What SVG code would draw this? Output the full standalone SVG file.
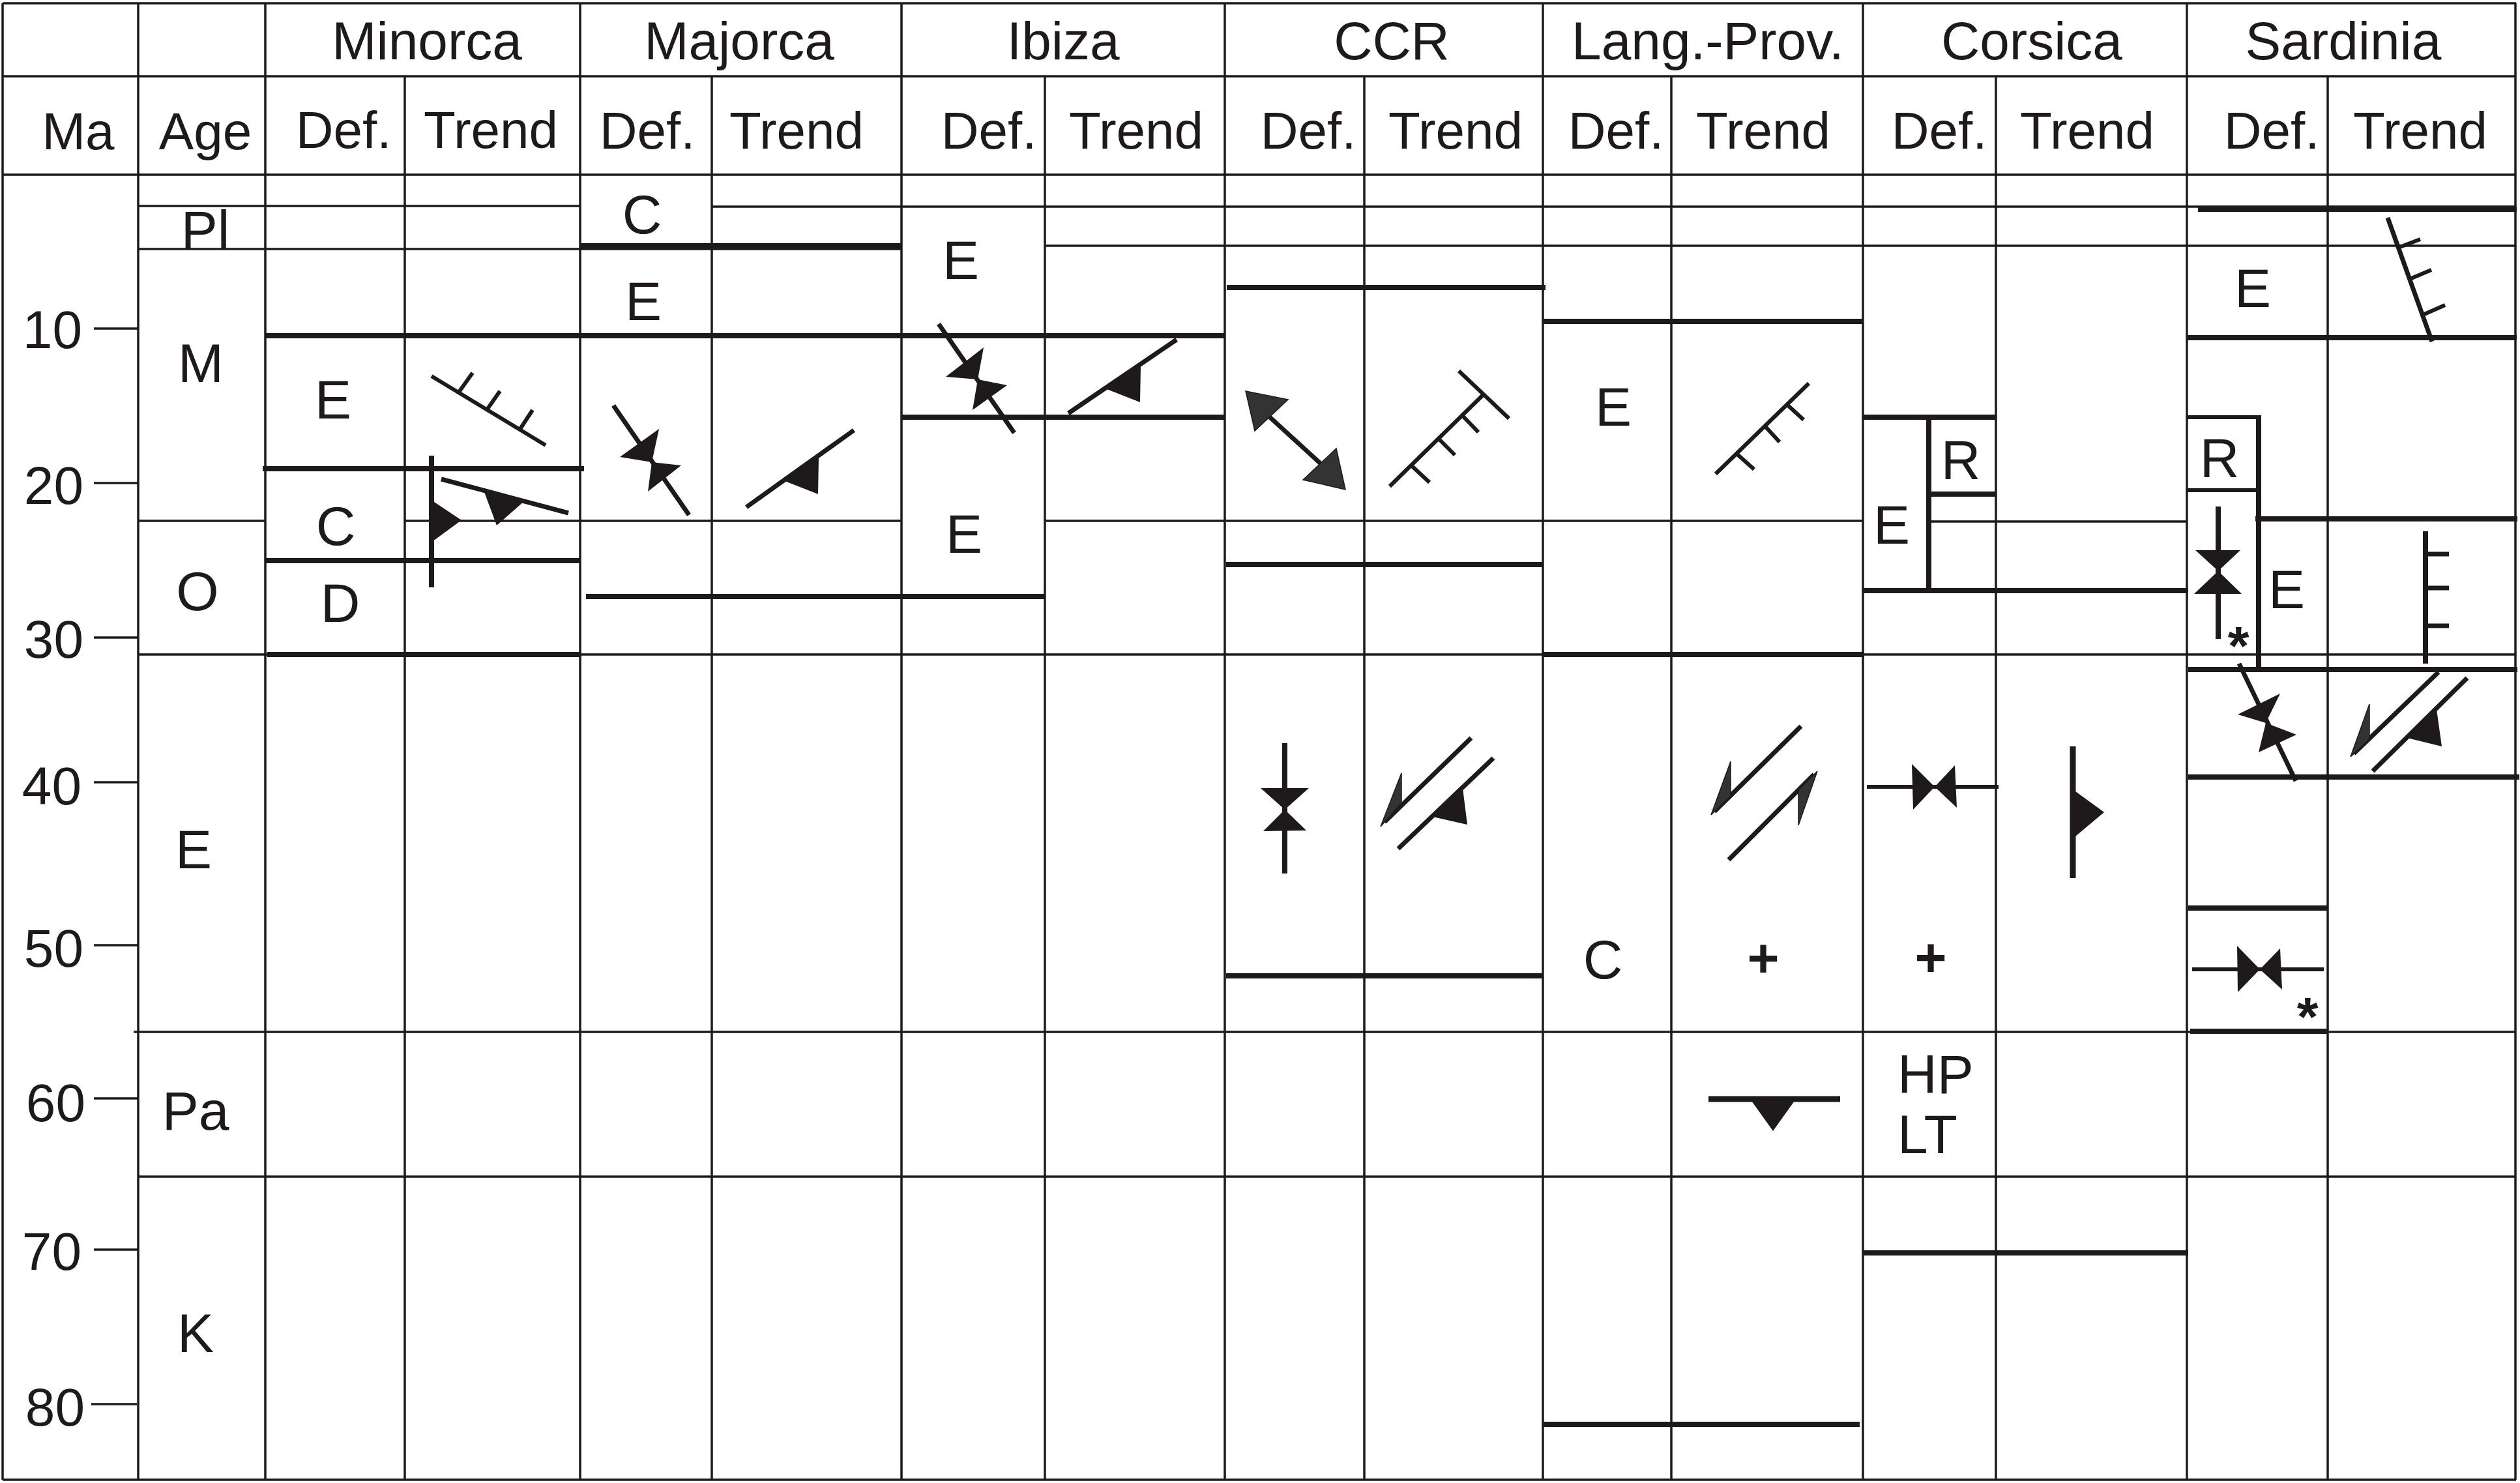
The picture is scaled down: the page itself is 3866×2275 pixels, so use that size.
<svg xmlns="http://www.w3.org/2000/svg" width="3866" height="2275" viewBox="0 0 3866 2275">
<style>
.bg{fill:#ffffff}
.g{stroke:#1e1a1b;stroke-width:3.5;fill:none}
.t{stroke:#1e1a1b;stroke-width:8;fill:none}
.m{stroke:#1e1a1b;stroke-width:6;fill:none}
.s{stroke:#1e1a1b;stroke-width:7;fill:none}
.sv{stroke:#1e1a1b;stroke-width:9;fill:none}
.f{fill:#1e1a1b}
.fg{fill:#333333;stroke:#1e1a1b;stroke-width:1.5}
text{font-family:"Liberation Sans",Arial,sans-serif;fill:#1e1a1b}
.h1{font-size:82px;text-anchor:middle}
.h2{font-size:80px;text-anchor:middle}
.n{font-size:82px;text-anchor:end}
.l{font-size:84px;text-anchor:middle}
.ll{font-size:84px;text-anchor:start}
.b{font-size:84px;font-weight:bold;text-anchor:middle}
</style>
<rect class="bg" x="0" y="0" width="3866" height="2275"/>

<g id="grid">
<!-- header horizontals -->
<line class="g" x1="4" y1="5" x2="3860" y2="5"/>
<line class="g" x1="4" y1="117" x2="3860" y2="117"/>
<line class="g" x1="4" y1="268" x2="3860" y2="268"/>
<line class="g" x1="4" y1="2270" x2="3860" y2="2270"/>
<!-- verticals -->
<line class="g" x1="4" y1="5" x2="4" y2="2270"/>
<line class="g" x1="212" y1="5" x2="212" y2="2270"/>
<line class="g" x1="407" y1="5" x2="407" y2="2270"/>
<line class="g" x1="621" y1="117" x2="621" y2="2270"/>
<line class="g" x1="890" y1="5" x2="890" y2="2270"/>
<line class="g" x1="1092" y1="117" x2="1092" y2="2270"/>
<line class="g" x1="1383" y1="5" x2="1383" y2="2270"/>
<line class="g" x1="1603" y1="117" x2="1603" y2="2270"/>
<line class="g" x1="1879" y1="5" x2="1879" y2="2270"/>
<line class="g" x1="2093" y1="117" x2="2093" y2="2270"/>
<line class="g" x1="2367" y1="5" x2="2367" y2="2270"/>
<line class="g" x1="2564" y1="117" x2="2564" y2="2270"/>
<line class="g" x1="2858" y1="5" x2="2858" y2="2270"/>
<line class="g" x1="3062" y1="117" x2="3062" y2="2270"/>
<line class="g" x1="3355" y1="5" x2="3355" y2="2270"/>
<line class="g" x1="3571" y1="117" x2="3571" y2="2270"/>
<line class="g" x1="3859" y1="5" x2="3859" y2="2270"/>
<!-- thin time lines -->
<line class="g" x1="212" y1="316" x2="890" y2="316"/>
<line class="g" x1="1092" y1="317" x2="3859" y2="317"/>
<line class="g" x1="212" y1="382" x2="890" y2="382"/>
<line class="g" x1="890" y1="382" x2="1383" y2="382"/>
<line class="g" x1="1603" y1="377" x2="3859" y2="377"/>
<line class="g" x1="212" y1="799" x2="407" y2="799"/>
<line class="g" x1="621" y1="799" x2="1383" y2="799"/>
<line class="g" x1="1603" y1="799" x2="2858" y2="799"/>
<line class="g" x1="2959" y1="800" x2="3355" y2="800"/>
<line class="g" x1="212" y1="1004" x2="3859" y2="1004"/>
<line class="g" x1="205" y1="1583" x2="3859" y2="1583"/>
<line class="g" x1="212" y1="1805" x2="3859" y2="1805"/>
<!-- thick boundaries -->
<line class="t" x1="407" y1="515" x2="1879" y2="515"/>
<line class="t" x1="403" y1="719" x2="896" y2="719"/>
<line class="t" x1="407" y1="860" x2="890" y2="860"/>
<line class="t" x1="410" y1="1004" x2="892" y2="1004"/>
<line class="t" x1="891" y1="377" x2="1384" y2="377"/>
<line class="t" x1="899" y1="915" x2="1603" y2="915"/>
<line class="t" x1="1384" y1="640" x2="1880" y2="640"/>
<line class="t" x1="1882" y1="441" x2="2371" y2="441"/>
<line class="t" x1="1881" y1="866" x2="2367" y2="866"/>
<line class="t" x1="1881" y1="1497" x2="2367" y2="1497"/>
<line class="t" x1="2367" y1="493" x2="2857" y2="493"/>
<line class="t" x1="2367" y1="1004" x2="2860" y2="1004"/>
<line class="t" x1="2367" y1="2185" x2="2853" y2="2185"/>
<line class="t" x1="2858" y1="640" x2="3062" y2="640"/>
<line class="t" x1="2959" y1="758" x2="3062" y2="758"/>
<line class="t" x1="2959" y1="636" x2="2959" y2="906"/>
<line class="t" x1="2858" y1="906" x2="3357" y2="906"/>
<line class="t" x1="2858" y1="1922" x2="3357" y2="1922"/>
<line class="t" x1="3372" y1="321" x2="3861" y2="321"/>
<line class="t" x1="3355" y1="518" x2="3861" y2="518"/>
<line class="m" x1="3355" y1="640" x2="3465" y2="640"/>
<line class="m" x1="3355" y1="752" x2="3463" y2="752"/>
<line class="t" x1="3465" y1="637" x2="3465" y2="1027"/>
<line class="t" x1="3460" y1="796" x2="3862" y2="796"/>
<line class="t" x1="3357" y1="1027" x2="3862" y2="1027"/>
<line class="t" x1="3357" y1="1192" x2="3865" y2="1192"/>
<line class="t" x1="3357" y1="1393" x2="3570" y2="1393"/>
<line class="t" x1="3360" y1="1582" x2="3570" y2="1582"/>
</g>

<g id="axis">
<line class="g" x1="144" y1="504" x2="213" y2="504"/>
<line class="g" x1="144" y1="741" x2="213" y2="741"/>
<line class="g" x1="144" y1="978" x2="213" y2="978"/>
<line class="g" x1="144" y1="1200" x2="213" y2="1200"/>
<line class="g" x1="144" y1="1450" x2="213" y2="1450"/>
<line class="g" x1="144" y1="1685" x2="213" y2="1685"/>
<line class="g" x1="144" y1="1917" x2="213" y2="1917"/>
<line class="g" x1="140" y1="2154" x2="210" y2="2154"/>
<text class="n" x="126" y="534">10</text>
<text class="n" x="128" y="773">20</text>
<text class="n" x="128" y="1009">30</text>
<text class="n" x="125" y="1234">40</text>
<text class="n" x="128" y="1483">50</text>
<text class="n" x="131" y="1720">60</text>
<text class="n" x="125" y="1948">70</text>
<text class="n" x="130" y="2187">80</text>
</g>

<g id="age">
<text class="l" x="315" y="382">Pl</text>
<text class="l" x="308" y="586">M</text>
<text class="l" x="303" y="936">O</text>
<text class="l" x="297" y="1332">E</text>
<text class="l" x="300" y="1733">Pa</text>
<text class="l" x="300" y="2074">K</text>
</g>

<g id="headers">
<text class="h1" x="655" y="91">Minorca</text>
<text class="h1" x="1134" y="91">Majorca</text>
<text class="h1" x="1631" y="91">Ibiza</text>
<text class="h1" x="2135" y="91">CCR</text>
<text class="h1" x="2620" y="91">Lang.-Prov.</text>
<text class="h1" x="3117" y="91">Corsica</text>
<text class="h1" x="3595" y="91">Sardinia</text>
<text class="h2" x="120" y="229">Ma</text>
<text class="h2" x="315" y="229">Age</text>
<text class="h2" x="527" y="227">Def.</text>
<text class="h2" x="753" y="227">Trend</text>
<text class="h2" x="993" y="228">Def.</text>
<text class="h2" x="1222" y="228">Trend</text>
<text class="h2" x="1517" y="228">Def.</text>
<text class="h2" x="1743" y="228">Trend</text>
<text class="h2" x="2007" y="228">Def.</text>
<text class="h2" x="2233" y="228">Trend</text>
<text class="h2" x="2479" y="228">Def.</text>
<text class="h2" x="2705" y="228">Trend</text>
<text class="h2" x="2975" y="228">Def.</text>
<text class="h2" x="3202" y="228">Trend</text>
<text class="h2" x="3485" y="228">Def.</text>
<text class="h2" x="3713" y="228">Trend</text>
</g>

<g id="minorca">
<text class="l" x="511" y="642">E</text>
<text class="l" x="515" y="836">C</text>
<text class="l" x="522" y="954">D</text>
<line class="m" x1="662" y1="577" x2="837" y2="683"/>
<line class="m" x1="705" y1="600" x2="725" y2="572"/>
<line class="m" x1="748" y1="627" x2="767" y2="600"/>
<line class="m" x1="798" y1="658" x2="817" y2="629"/>
<line class="t" x1="662" y1="699" x2="662" y2="901"/>
<polygon class="f" points="663,768 708,798 663,831"/>
<line class="s" x1="677" y1="735" x2="872" y2="787"/>
<polygon class="f" points="743,755 803,770 762,806"/>
</g>

<g id="majorca">
<text class="l" x="985" y="358">C</text>
<text class="l" x="987" y="491">E</text>
<line class="s" x1="941" y1="622" x2="1057" y2="790"/>
<polygon class="f" points="1011,658 951,701 1000,709"/>
<polygon class="f" points="1045,714 994,754 1000,709"/>
<line class="s" x1="1145" y1="778" x2="1310" y2="660"/>
<polygon class="f" points="1204,738 1256,702 1255,758"/>
</g>

<g id="ibiza">
<text class="l" x="1474" y="428">E</text>
<text class="l" x="1479" y="848">E</text>
<line class="s" x1="1440" y1="497" x2="1556" y2="664"/>
<polygon class="f" points="1509,533 1451,578 1500,582"/>
<polygon class="f" points="1545,591 1492,629 1500,582"/>
<line class="s" x1="1639" y1="634" x2="1805" y2="521"/>
<polygon class="f" points="1698,597 1750,562 1749,617"/>
</g>

<g id="ccr">
<line class="s" x1="1947" y1="639" x2="2028" y2="713"/>
<polygon class="fg" points="1911,600 1976,613 1925,661"/>
<polygon class="fg" points="2050,688 2064,751 1999,736"/>
<line class="m" x1="2132" y1="746" x2="2275" y2="606"/>
<line class="m" x1="2238" y1="569" x2="2315" y2="642"/>
<line class="m" x1="2165" y1="714" x2="2193" y2="740"/>
<line class="m" x1="2206" y1="672" x2="2232" y2="698"/>
<line class="m" x1="2243" y1="637" x2="2268" y2="663"/>
<line class="t" x1="1971" y1="1140" x2="1971" y2="1340"/>
<polygon class="f" points="1934,1209 2008,1209 1971,1242"/>
<polygon class="f" points="1938,1275 2004,1274 1971,1242"/>
<line class="s" x1="2257" y1="1132" x2="2124" y2="1261"/>
<polygon class="fg" points="2118,1268 2150,1186 2150,1232"/>
<line class="s" x1="2291" y1="1163" x2="2145" y2="1302"/>
<polygon class="f" points="2198,1253 2244,1209 2251,1265"/>
</g>

<g id="langprov">
<text class="l" x="2475" y="653">E</text>
<text class="l" x="2459" y="1501">C</text>
<text class="b" x="2705" y="1499">+</text>
<line class="m" x1="2632" y1="727" x2="2775" y2="588"/>
<line class="m" x1="2663" y1="695" x2="2691" y2="720"/>
<line class="m" x1="2707" y1="653" x2="2730" y2="678"/>
<line class="m" x1="2743" y1="622" x2="2767" y2="644"/>
<line class="s" x1="2763" y1="1114" x2="2630" y2="1245"/>
<polygon class="fg" points="2625,1250 2655,1168 2655,1221"/>
<line class="s" x1="2652" y1="1319" x2="2783" y2="1188"/>
<polygon class="fg" points="2788,1183 2759,1266 2759,1212"/>
<line class="sv" x1="2621" y1="1686" x2="2823" y2="1686"/>
<polygon class="f" points="2685,1686 2755,1686 2720,1735"/>
</g>

<g id="corsica">
<text class="l" x="3008" y="735">R</text>
<text class="l" x="2902" y="834">E</text>
<text class="b" x="2962" y="1498">+</text>
<text class="ll" x="2911" y="1677">HP</text>
<text class="ll" x="2911" y="1769">LT</text>
<line class="m" x1="2864" y1="1207" x2="3066" y2="1207"/>
<polygon class="f" points="2933,1172 2968,1207 2935,1242"/>
<polygon class="f" points="2999,1174 2968,1207 3002,1239"/>
<line class="sv" x1="3180" y1="1145" x2="3180" y2="1347"/>
<polygon class="f" points="3184,1214 3228,1246 3184,1283"/>
</g>

<g id="sardinia">
<text class="l" x="3456" y="471">E</text>
<text class="l" x="3405" y="732">R</text>
<text class="l" x="3508" y="933">E</text>
<text class="b" x="3434" y="1020">*</text>
<text class="b" x="3540" y="1589">*</text>
<line class="s" x1="3663" y1="334" x2="3731" y2="524"/>
<line class="m" x1="3679" y1="380" x2="3713" y2="367"/>
<line class="m" x1="3697" y1="428" x2="3730" y2="414"/>
<line class="m" x1="3717" y1="483" x2="3751" y2="468"/>
<line class="t" x1="3403" y1="777" x2="3403" y2="980"/>
<polygon class="f" points="3368,844 3437,844 3403,876"/>
<polygon class="f" points="3366,911 3439,911 3403,876"/>
<line class="t" x1="3721" y1="815" x2="3721" y2="1018"/>
<line class="s" x1="3721" y1="850" x2="3757" y2="850"/>
<line class="s" x1="3721" y1="902" x2="3757" y2="902"/>
<line class="s" x1="3721" y1="960" x2="3757" y2="960"/>
<line class="s" x1="3435" y1="1018" x2="3522" y2="1198"/>
<polygon class="f" points="3433,1096 3498,1064 3476,1109"/>
<polygon class="f" points="3523,1127 3465,1154 3476,1109"/>
<line class="s" x1="3741" y1="1031" x2="3611" y2="1156"/>
<polygon class="fg" points="3606,1161 3635,1080 3635,1134"/>
<line class="s" x1="3785" y1="1040" x2="3640" y2="1183"/>
<polygon class="f" points="3693,1132 3738,1088 3746,1145"/>
<line class="m" x1="3363" y1="1487" x2="3565" y2="1487"/>
<polygon class="f" points="3432,1451 3467,1487 3433,1522"/>
<polygon class="f" points="3498,1455 3467,1487 3501,1518"/>
</g>
</svg>
